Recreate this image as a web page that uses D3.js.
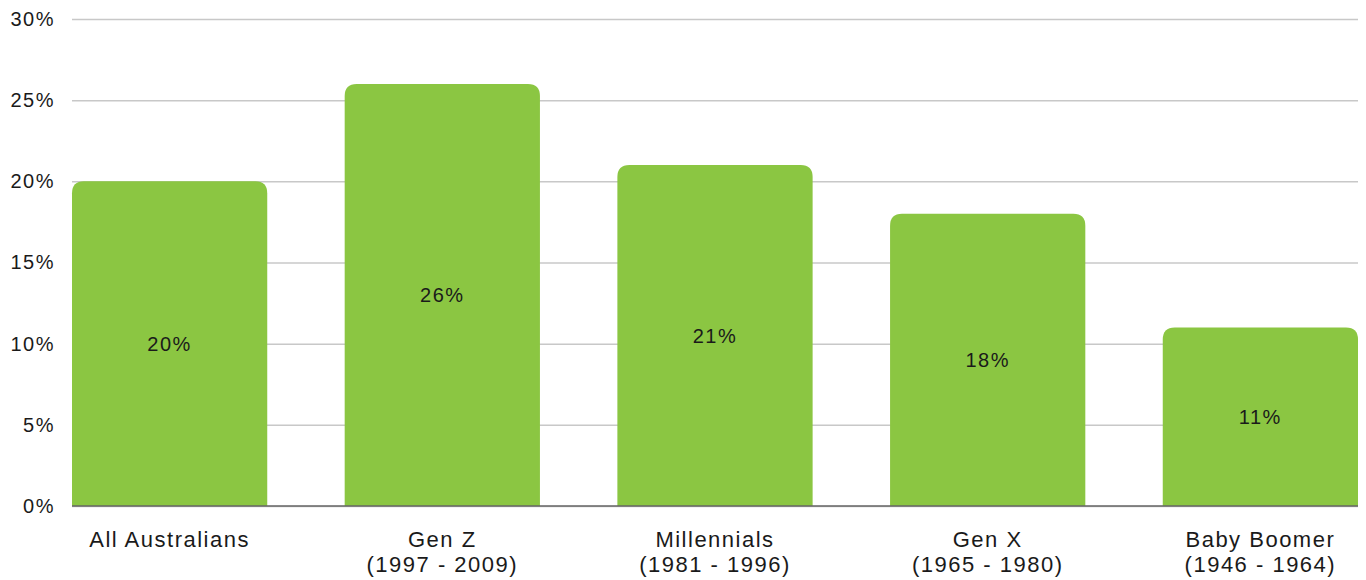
<!DOCTYPE html>
<html>
<head>
<meta charset="utf-8">
<script src="https://cdn.jsdelivr.net/npm/d3@7"></script>
<style>
  html, body { margin: 0; padding: 0; background: #fff; }
  svg { display: block; font-family: "Liberation Sans", Arial, sans-serif; letter-spacing: 1.5px; }
</style>
</head>
<body>
<svg id="chart" width="1366" height="580"></svg>
<script>
// Share of each generation, in percent
const categories = ["All Australians", "Gen Z", "Millennials", "Gen X", "Baby Boomer"];
const subLabels = ["", "(1997 - 2009)", "(1981 - 1996)", "(1965 - 1980)", "(1946 - 1964)"];
const values = [20, 26, 21, 18, 11];
const yTicks = [0, 5, 10, 15, 20, 25, 30];

const svg = d3.select("#chart");
const margin = { left: 72, right: 8, top: 19, bottom: 74 };
const W = 1366, H = 580;

const x = d3.scaleBand()
  .domain(categories)
  .range([margin.left, W - margin.right])
  .paddingInner(0.284)
  .paddingOuter(0);

const y = d3.scaleLinear()
  .domain([0, 30])
  .range([H - margin.bottom, margin.top]);

// Horizontal gridlines with percent labels
const yAxis = d3.axisLeft(y)
  .tickValues(yTicks)
  .tickSize(-(W - margin.right - margin.left))
  .tickPadding(17)
  .tickFormat(d => d + "%");

const gy = svg.append("g")
  .attr("transform", `translate(${margin.left},0)`)
  .call(yAxis);
gy.select(".domain").remove();
gy.selectAll(".tick line")
  .attr("stroke", "#c8c8c8")
  .attr("stroke-width", 1.5);
gy.selectAll(".tick text")
  .attr("fill", "#1a1a1a")
  .attr("font-family", null)
  .attr("font-size", 20);

// Bars with rounded top corners
const r = 12;
function topRounded(x0, y0, w, h) {
  const rr = Math.min(r, h, w / 2);
  return `M${x0},${y0 + h}V${y0 + rr}Q${x0},${y0} ${x0 + rr},${y0}` +
         `H${x0 + w - rr}Q${x0 + w},${y0} ${x0 + w},${y0 + rr}V${y0 + h}Z`;
}

svg.append("g")
  .selectAll("path")
  .data(values)
  .join("path")
  .attr("d", (d, i) => topRounded(x(categories[i]), y(d), x.bandwidth(), y(0) - y(d)))
  .attr("fill", "#8bc642");

// Baseline
svg.append("line")
  .attr("x1", margin.left).attr("x2", W - margin.right)
  .attr("y1", y(0)).attr("y2", y(0))
  .attr("stroke", "#666").attr("stroke-width", 1.5);

// Value labels centred in each bar
svg.append("g")
  .selectAll("text")
  .data(values)
  .join("text")
  .attr("x", (d, i) => x(categories[i]) + x.bandwidth() / 2)
  .attr("y", d => (y(d) + y(0)) / 2)
  .attr("dy", "0.35em")
  .attr("text-anchor", "middle")
  .attr("font-size", 20)
  .attr("fill", "#1a1a1a")
  .text(d => d + "%");

// Category labels
const cat = svg.append("g")
  .selectAll("text")
  .data(categories)
  .join("text")
  .attr("x", d => x(d) + x.bandwidth() / 2)
  .attr("y", 547)
  .attr("text-anchor", "middle")
  .attr("font-size", 22)
  .attr("fill", "#1a1a1a");
cat.append("tspan").text(d => d);
cat.append("tspan")
  .attr("x", d => x(d) + x.bandwidth() / 2)
  .attr("dy", 25)
  .text((d, i) => subLabels[i]);
</script>
</body>
</html>
